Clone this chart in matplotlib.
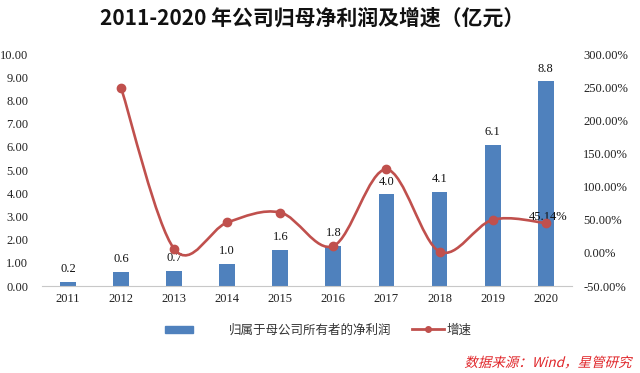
import matplotlib.pyplot as plt
from matplotlib.path import Path
from matplotlib.patches import PathPatch, Patch
from matplotlib.lines import Line2D
from matplotlib.textpath import TextPath
from matplotlib.font_manager import FontProperties
from matplotlib.transforms import Affine2D
from matplotlib.ticker import FormatStrFormatter

# 数据（亿元 / %）
years = ['2011', '2012', '2013', '2014', '2015', '2016', '2017', '2018', '2019', '2020']
profit = [0.17, 0.60, 0.65, 0.95, 1.57, 1.72, 3.95, 4.05, 6.07, 8.82]
profit_labels = ['0.2', '0.6', '0.7', '1.0', '1.6', '1.8', '4.0', '4.1', '6.1', '8.8']
growth_years = years[1:]
growth = [248.5, 6.0, 46.0, 61.0, 10.5, 126.0, 2.0, 50.0, 45.14]

serif = ['Liberation Serif', 'Noto Sans CJK SC']
cjk = ['Noto Sans CJK SC', 'DejaVu Sans']
bar_color = '#4F81BD'
line_color = '#C0504D'

fig = plt.figure(figsize=(6.4, 3.73), dpi=100)
ax = fig.add_axes([0.065, 0.233, 0.829, 0.622])
ax2 = ax.twinx()

x = list(range(len(years)))
ax.bar(x, profit, width=0.3, color=bar_color, zorder=2)
for xi, v, lab in zip(x, profit, profit_labels):
    ax.annotate(lab, (xi, v), xytext=(0, 5), textcoords='offset points',
                ha='center', va='bottom', fontsize=9, family=serif, color='#111111')

ax.set_xlim(-0.5, len(years) - 0.5)
ax.set_ylim(0, 10)
ax.set_yticks(range(0, 11))
ax.yaxis.set_major_formatter(FormatStrFormatter('%.2f'))
ax.set_xticks(x)
ax.set_xticklabels(years)

ax2.set_ylim(-50, 300)
ax2.set_yticks(range(-50, 301, 50))
ax2.yaxis.set_major_formatter(FormatStrFormatter('%.2f%%'))

for a in (ax, ax2):
    for s in a.spines.values():
        s.set_visible(False)
    a.tick_params(length=0, labelsize=9, colors='#222222')
    for t in a.get_xticklabels() + a.get_yticklabels():
        t.set_family(serif)
ax.spines['bottom'].set_visible(True)
ax.spines['bottom'].set_color('#c8c8c8')
ax.tick_params(axis='y', pad=9.5)
ax.tick_params(axis='x', pad=5)
ax2.tick_params(axis='y', pad=8)

# 平滑折线（Catmull-Rom -> 三次贝塞尔）
gx = [x[years.index(y)] for y in growth_years]
pts = list(zip(gx, growth))
verts = [pts[0]]
codes = [Path.MOVETO]
n = len(pts)
for i in range(n - 1):
    p0 = pts[i - 1] if i > 0 else pts[i]
    p1 = pts[i]
    p2 = pts[i + 1]
    p3 = pts[i + 2] if i + 2 < n else pts[i + 1]
    c1 = (p1[0] + (p2[0] - p0[0]) / 6, p1[1] + (p2[1] - p0[1]) / 6)
    c2 = (p2[0] - (p3[0] - p1[0]) / 6, p2[1] - (p3[1] - p1[1]) / 6)
    verts += [c1, c2, p2]
    codes += [Path.CURVE4] * 3
ax2.add_patch(PathPatch(Path(verts, codes), fill=False, edgecolor=line_color,
                        lw=1.9, zorder=3, capstyle='round'))
ax2.plot(gx, growth, 'o', color=line_color, ms=6, zorder=4)
ax2.annotate('%.2f%%' % growth[-1], (gx[-1], growth[-1]), xytext=(2, 4),
             textcoords='offset points', ha='center', va='center',
             fontsize=9, family=serif, color='#111111')

fig.text(0.4875, 0.952, '2011-2020 年公司归母净利润及增速（亿元）', ha='center', va='center',
         fontsize=15, fontweight='bold', family=cjk, color='#111111')

leg1 = fig.legend(handles=[Patch(color=bar_color)], labels=['归属于母公司所有者的净利润'],
                  loc='center', bbox_to_anchor=(0.435, 0.115), frameon=False,
                  handlelength=2.2, handleheight=0.45, handletextpad=2.9,
                  prop={'family': cjk, 'size': 9})
leg2 = fig.legend(handles=[Line2D([], [], color=line_color, lw=2, marker='o', ms=4)],
                  labels=['增速'], loc='center', bbox_to_anchor=(0.69, 0.115), frameon=False,
                  handlelength=2.6, handletextpad=0.2, prop={'family': cjk, 'size': 9})
for leg in (leg1, leg2):
    for t in leg.get_texts():
        t.set_color('#333333')

# 斜体来源（CJK 字体无斜体，手动倾斜）
src = TextPath((0, 0), '数据来源：Wind，星管研究', size=13.5,
               prop=FontProperties(family=cjk))
ext = src.get_extents()
tr = Affine2D().skew_deg(14, 0).translate(633 - ext.x1 - 2, 6)
fig.add_artist(PathPatch(src, transform=tr, color='#E0262A', lw=0))

fig.savefig('out.png', dpi=100)
